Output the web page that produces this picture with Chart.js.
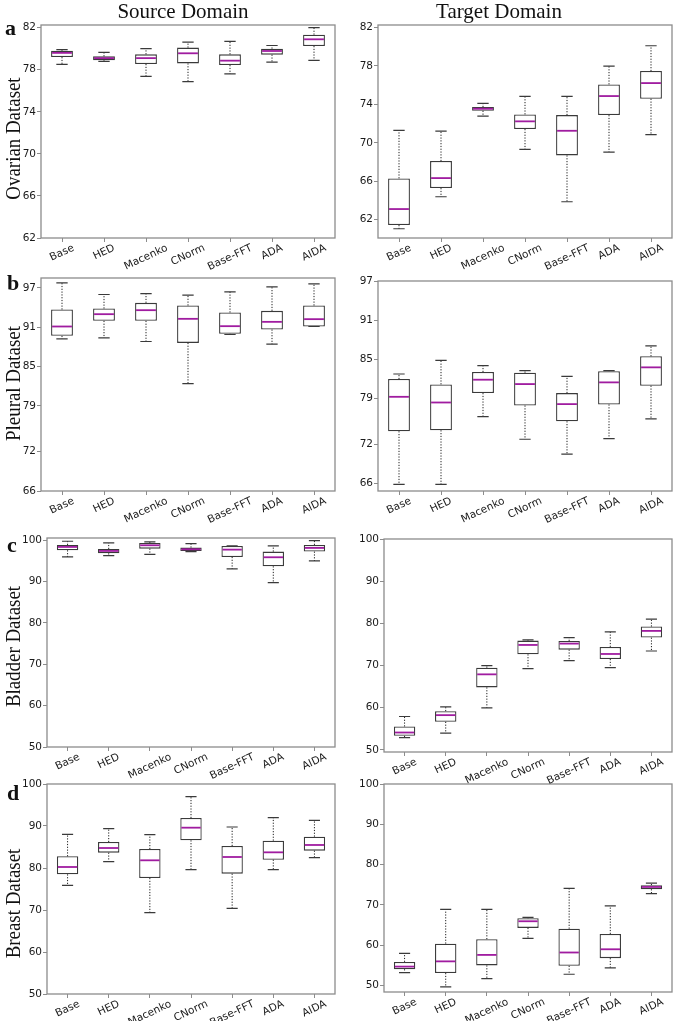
<!DOCTYPE html>
<html>
<head>
<meta charset="utf-8">
<script src="https://cdn.jsdelivr.net/npm/chart.js@4.4.1/dist/chart.umd.min.js"></script>
<style>
    html, body { margin: 0; background: #fff; }
    body { width: 675px; height: 1021px; position: relative; overflow: hidden; }
    canvas { position: absolute; }
    .txt { position: absolute; font-family: "Liberation Serif", "Times New Roman", serif; color: #111; white-space: nowrap; }
    .col { width: 220px; text-align: center; font-size: 21px; line-height: 21px; top: 1px; }
    .letter { font-weight: bold; font-size: 22px; line-height: 22px; }
    .ytitle { width: 200px; text-align: center; font-size: 21px; line-height: 21px; transform: rotate(-90deg) scaleX(0.9); }
</style>
</head>
<body>
<div class="txt col" style="left:73px">Source Domain</div>
<div class="txt col" style="left:389px">Target Domain</div>
<div class="txt letter" style="left:5px;top:16.6px">a</div>
<div class="txt letter" style="left:7px;top:271.6px">b</div>
<div class="txt letter" style="left:7px;top:533.6px">c</div>
<div class="txt letter" style="left:7px;top:781.6px">d</div>
<div class="txt ytitle" style="left:-87.5px;top:128px">Ovarian Dataset</div>
<div class="txt ytitle" style="left:-87.5px;top:372.5px">Pleural Dataset</div>
<div class="txt ytitle" style="left:-87.5px;top:635.5px">Bladder Dataset</div>
<div class="txt ytitle" style="left:-87.5px;top:892.5px">Breast Dataset</div>

<script>
const categories = ['Base', 'HED', 'Macenko', 'CNorm', 'Base-FFT', 'ADA', 'AIDA'];

const ovarianTicks = [62, 66, 70, 74, 78, 82];
const pleuralTicks = [66, 72, 79, 85, 91, 97];
const tenTicks = [50, 60, 70, 80, 90, 100];

// a - Ovarian, source domain
const ovSrcMin = [78.5, 78.8, 77.37, 76.86, 77.6, 78.73, 78.89];
const ovSrcQ1  = [79.2, 78.9, 78.54, 78.6, 78.44, 79.43, 80.25];
const ovSrcMed = [79.6, 79.1, 79.1, 79.56, 78.86, 79.78, 80.89];
const ovSrcQ3  = [79.8, 79.27, 79.46, 80.1, 79.46, 80.0, 81.33];
const ovSrcMax = [79.9, 79.65, 80.0, 80.63, 80.7, 80.3, 82.0];
// a - Ovarian, target domain
const ovTgtMin = [61.06, 64.39, 72.78, 69.31, 63.87, 69.04, 70.84];
const ovTgtQ1  = [61.45, 65.29, 73.33, 71.43, 68.69, 72.88, 74.58];
const ovTgtMed = [63.11, 66.33, 73.54, 72.23, 71.25, 74.86, 76.21];
const ovTgtQ3  = [66.3, 68.1, 73.72, 72.95, 72.88, 76.07, 77.46];
const ovTgtMax = [71.29, 71.22, 74.1, 74.83, 74.83, 77.98, 80.09];
// b - Pleural
const plSrcMin = [89.21, 89.37, 88.81, 82.39, 89.88, 88.4, 91.1];
const plSrcQ1  = [89.67, 91.96, 91.96, 88.6, 89.98, 90.64, 91.1];
const plSrcMed = [91.1, 92.98, 93.59, 92.27, 91.15, 91.81, 92.22];
const plSrcQ3  = [93.69, 93.84, 94.71, 94.3, 93.23, 93.49, 94.3];
const plSrcMax = [97.76, 95.98, 96.13, 95.88, 96.39, 97.15, 97.6];
const plTgtMin = [65.85, 65.85, 76.25, 72.77, 70.51, 72.87, 75.89];
const plTgtQ1  = [74.0, 74.15, 79.84, 77.94, 75.53, 78.1, 80.97];
const plTgtMed = [79.27, 78.4, 81.89, 81.22, 78.15, 81.48, 83.78];
const plTgtQ3  = [81.99, 81.17, 83.07, 82.96, 79.84, 83.2, 85.47];
const plTgtMax = [82.76, 84.86, 84.04, 83.27, 82.4, 83.27, 87.06];
// c - Bladder
const blSrcMin = [95.97, 96.29, 96.61, 97.26, 93.06, 89.76, 95.0];
const blSrcQ1  = [97.58, 96.85, 97.98, 97.42, 95.97, 93.71, 97.26];
const blSrcMed = [98.39, 97.42, 98.79, 97.82, 97.74, 95.89, 98.15];
const blSrcQ3  = [98.87, 97.9, 99.35, 98.23, 98.63, 97.26, 98.87];
const blSrcMax = [99.76, 99.35, 99.6, 99.19, 98.63, 98.63, 99.9];
const blTgtMin = [52.93, 53.96, 59.98, 69.26, 71.16, 69.49, 73.45];
const blTgtQ1  = [53.33, 56.66, 64.82, 72.66, 73.77, 71.55, 76.62];
const blTgtMed = [54.12, 58.24, 67.91, 74.88, 75.2, 72.74, 78.21];
const blTgtQ3  = [55.55, 59.19, 69.49, 75.91, 75.83, 74.41, 79.24];
const blTgtMax = [57.92, 60.22, 69.97, 76.07, 76.62, 77.97, 80.98];
// d - Breast
const brSrcMin = [75.87, 81.5, 69.37, 79.6, 70.4, 79.6, 82.46];
const brSrcQ1  = [78.49, 83.65, 77.62, 86.59, 78.65, 81.98, 84.13];
const brSrcMed = [80.24, 84.76, 81.83, 89.6, 82.62, 83.73, 85.48];
const brSrcQ3  = [82.78, 86.19, 84.52, 91.9, 85.24, 86.51, 87.46];
const brSrcMax = [88.02, 89.37, 87.94, 96.98, 89.76, 91.98, 91.35];
const brTgtMin = [53.2, 49.67, 51.7, 61.7, 52.8, 54.4, 72.8];
const brTgtQ1  = [54.05, 53.1, 55.0, 64.3, 54.9, 56.8, 73.9];
const brTgtMed = [54.7, 56.0, 57.6, 65.95, 58.2, 59.0, 74.46];
const brTgtQ3  = [55.87, 60.4, 61.5, 66.7, 64.1, 62.8, 74.9];
const brTgtMax = [58.0, 68.9, 68.9, 66.9, 74.1, 69.75, 75.4];

const BOX_EDGE = '#3a3a3a';
const MEDIAN = '#a01ca0';
const WHISKER = '#1e1e1e';
const FRAME = '#8c8c8c';
const TEXT = '#1a1a1a';
const TICK_FONT = { family: 'DejaVu Sans', size: 10.5 };

// plot area [left, top, right, bottom] in page pixels, y range
const panels = [
    { area: [41, 25, 335, 238],   min: 62,    max: 82.25, ticks: ovarianTicks, stats: [ovSrcMin, ovSrcQ1, ovSrcMed, ovSrcQ3, ovSrcMax] },
    { area: [378, 25, 672, 238],  min: 60.1,  max: 82.25, ticks: ovarianTicks, stats: [ovTgtMin, ovTgtQ1, ovTgtMed, ovTgtQ3, ovTgtMax] },
    { area: [41, 278, 335, 491],  min: 66,    max: 98.5,  ticks: pleuralTicks, stats: [plSrcMin, plSrcQ1, plSrcMed, plSrcQ3, plSrcMax] },
    { area: [378, 281, 672, 491], min: 64.85, max: 97,    ticks: pleuralTicks, stats: [plTgtMin, plTgtQ1, plTgtMed, plTgtQ3, plTgtMax] },
    { area: [47, 538, 335, 747],  min: 50,    max: 100.55, ticks: tenTicks,    stats: [blSrcMin, blSrcQ1, blSrcMed, blSrcQ3, blSrcMax] },
    { area: [384, 539, 672, 752], min: 49.5,  max: 100,   ticks: tenTicks,     stats: [blTgtMin, blTgtQ1, blTgtMed, blTgtQ3, blTgtMax] },
    { area: [47, 784, 335, 994],  min: 50,    max: 100,   ticks: tenTicks,     stats: [brSrcMin, brSrcQ1, brSrcMed, brSrcQ3, brSrcMax] },
    { area: [384, 784, 672, 992], min: 48.4,  max: 100,   ticks: tenTicks,     stats: [brTgtMin, brTgtQ1, brTgtMed, brTgtQ3, brTgtMax] },
];

const PAD_TOP = 10, PAD_RIGHT = 4, X_AXIS_H = 40;

function zeroPad(s) {
    s.paddingTop = 0; s.paddingBottom = 0; s.paddingLeft = 0; s.paddingRight = 0;
}

// whiskers, caps and medians, drawn through the chart's scales
function boxWhiskers(stats) {
    const [lo, q1, med, q3, hi] = stats;
    return {
        id: 'boxWhiskers',
        afterDatasetsDraw(chart) {
            const { ctx, scales: { x, y } } = chart;
            const step = x.getPixelForValue(1) - x.getPixelForValue(0);
            const capHalf = step * 0.135, boxHalf = step * 0.26;
            ctx.save();
            categories.forEach((c, i) => {
                const cx = x.getPixelForValue(i);
                const pLo = y.getPixelForValue(lo[i]), pQ1 = y.getPixelForValue(q1[i]);
                const pMed = y.getPixelForValue(med[i]);
                const pQ3 = y.getPixelForValue(q3[i]), pHi = y.getPixelForValue(hi[i]);

                ctx.strokeStyle = WHISKER;
                ctx.lineWidth = 1;
                ctx.setLineDash([1.2, 1.6]);
                ctx.beginPath();
                ctx.moveTo(cx, pQ3); ctx.lineTo(cx, pHi);
                ctx.moveTo(cx, pQ1); ctx.lineTo(cx, pLo);
                ctx.stroke();
                ctx.setLineDash([]);

                ctx.strokeStyle = BOX_EDGE;
                ctx.lineWidth = 1.2;
                ctx.beginPath();
                ctx.moveTo(cx - capHalf, pHi); ctx.lineTo(cx + capHalf, pHi);
                ctx.moveTo(cx - capHalf, pLo); ctx.lineTo(cx + capHalf, pLo);
                ctx.stroke();

                ctx.strokeStyle = MEDIAN;
                ctx.lineWidth = 1.8;
                ctx.beginPath();
                ctx.moveTo(cx - boxHalf + 1, pMed); ctx.lineTo(cx + boxHalf - 1, pMed);
                ctx.stroke();
            });
            ctx.restore();
        }
    };
}

// rotated category labels, centred on their tick like matplotlib
const xLabels = {
    id: 'xLabels',
    afterDraw(chart) {
        const { ctx, chartArea, scales: { x } } = chart;
        const a = 25 * Math.PI / 180;
        ctx.save();
        ctx.font = `${TICK_FONT.size}px "${TICK_FONT.family}"`;
        ctx.fillStyle = TEXT;
        ctx.textAlign = 'center';
        ctx.textBaseline = 'middle';
        chart.data.labels.forEach((lab, i) => {
            const w = ctx.measureText(lab).width;
            const h = TICK_FONT.size * 0.95;
            const H = w * Math.sin(a) + h * Math.cos(a);
            ctx.save();
            ctx.translate(x.getPixelForValue(i), chartArea.bottom + 5 + H / 2);
            ctx.rotate(-a);
            ctx.fillText(lab, 0, 0);
            ctx.restore();
        });
        ctx.restore();
    }
};

const frame = {
    id: 'frame',
    afterDraw(chart) {
        const { ctx, chartArea: a } = chart;
        ctx.save();
        ctx.strokeStyle = FRAME;
        ctx.lineWidth = 1.3;
        ctx.strokeRect(a.left, a.top, a.right - a.left, a.bottom - a.top);
        ctx.restore();
    }
};

panels.forEach((p, idx) => {
    const [l, t, r, b] = p.area;
    const canvasLeft = idx % 2 === 0 ? 0 : 340;
    const yW = l - canvasLeft;
    const cv = document.createElement('canvas');
    cv.width = r + PAD_RIGHT - canvasLeft;
    cv.height = PAD_TOP + (b - t) + X_AXIS_H;
    cv.style.left = canvasLeft + 'px';
    cv.style.top = (t - PAD_TOP) + 'px';
    cv.style.width = cv.width + 'px';
    cv.style.height = cv.height + 'px';
    document.body.insertBefore(cv, document.body.firstChild);

    const [lo, q1, med, q3, hi] = p.stats;
    new Chart(cv, {
        type: 'bar',
        data: {
            labels: categories,
            datasets: [{
                data: q1.map((v, i) => [v, q3[i]]),
                backgroundColor: '#ffffff',
                borderColor: BOX_EDGE,
                borderWidth: 1.3,
                borderSkipped: false,
                barPercentage: 0.52,
                categoryPercentage: 1
            }]
        },
        options: {
            responsive: false,
            animation: false,
            events: [],
            layout: { padding: { top: PAD_TOP, right: PAD_RIGHT, left: 0, bottom: 0 } },
            plugins: { legend: { display: false }, tooltip: { enabled: false } },
            scales: {
                x: {
                    offset: true,
                    grid: { display: true, offset: false, drawOnChartArea: false, drawTicks: true, tickLength: 4, color: FRAME },
                    border: { display: false },
                    ticks: { display: false },
                    afterFit: s => { s.height = X_AXIS_H; zeroPad(s); }
                },
                y: {
                    min: p.min,
                    max: p.max,
                    grid: { display: true, drawOnChartArea: false, drawTicks: true, tickLength: 4, color: FRAME },
                    border: { display: false },
                    ticks: { font: TICK_FONT, color: TEXT, padding: 1, autoSkip: false, callback: v => String(v) },
                    afterBuildTicks: s => { s.ticks = p.ticks.map(v => ({ value: v })); },
                    afterFit: s => { s.width = yW; zeroPad(s); }
                }
            }
        },
        plugins: [boxWhiskers(p.stats), xLabels, frame]
    });
});
</script>
</body>
</html>
